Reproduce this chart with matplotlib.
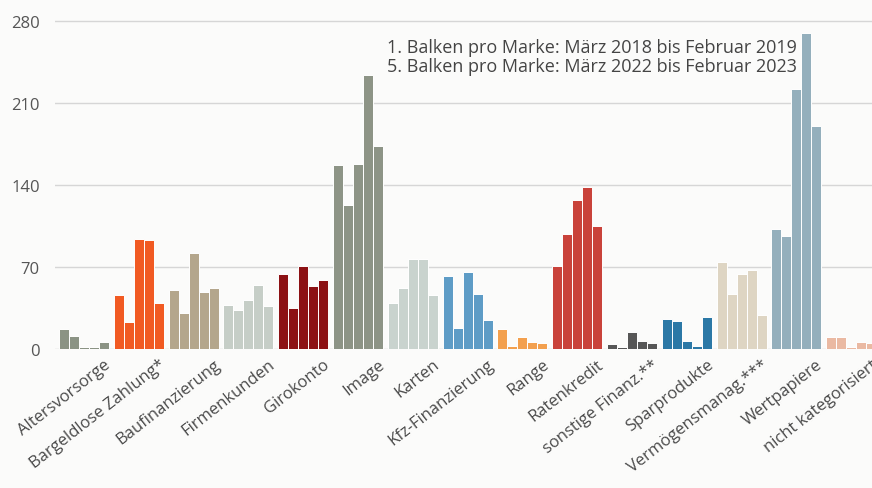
import numpy as np
import matplotlib.pyplot as plt

categories = ["Altersvorsorge", "Bargeldlose Zahlung*", "Baufinanzierung", "Firmenkunden",
              "Girokonto", "Image", "Karten", "Kfz-Finanzierung", "Range", "Ratenkredit",
              "sonstige Finanz.**", "Sparprodukte", "Vermögensmanag.***", "Wertpapiere",
              "nicht kategorisiert"]

# one list per period (bar 1 .. bar 5 of each brand)
p1 = [17, 46, 50, 38, 64, 157, 39, 62, 17, 71, 4, 26, 74, 102, 10]
p2 = [11, 23, 31, 33, 35, 123, 52, 18, 3, 98, 2, 24, 47, 96, 10]
p3 = [1.5, 94, 82, 42, 71, 158, 77, 66, 10, 127, 15, 7, 64, 222, 2]
p4 = [1.5, 93, 49, 55, 54, 234, 77, 47, 6, 138, 7, 3, 67, 269, 6]
p5 = [6, 39, 52, 37, 59, 173, 46, 25, 5, 105, 5, 27, 29, 190, 5]

colors = ["#8b9384", "#f15a22", "#b4a68c", "#c6cec7", "#8c1114", "#8d9486", "#c9d3ce",
          "#5e9cc6", "#f3a04e", "#c9423a", "#565656", "#2b78a6", "#ded5c3", "#94afbc",
          "#eab9a2"]

plt.rcParams['font.family'] = ['Open Sans', 'DejaVu Sans']

fig = plt.figure(figsize=(8.72, 4.89), dpi=100)
fig.patch.set_facecolor("#fbfbfa")
ax = fig.add_axes([0.063, 0.284, 0.937, 0.696])
ax.set_facecolor("#fbfbfa")

x = np.arange(len(categories))
w = 0.183
for k, vals in enumerate([p1, p2, p3, p4, p5]):
    ax.bar(x + (k - 2) * w, vals, width=w, color=colors, edgecolor="white",
           linewidth=0.7, zorder=2)

ax.set_xlim(-0.53, 14.38)
ax.set_ylim(0, 290)
ax.set_yticks([0, 70, 140, 210, 280])
ax.yaxis.grid(True, color="#d6d6d6", linewidth=1, zorder=0)
ax.tick_params(axis="y", length=0, pad=11, labelsize=12, labelcolor="#555555")
ax.tick_params(axis="x", length=0, pad=5)
ax.set_xticks(x + 0.36)
ax.set_xticklabels(categories, rotation=38, ha="right", rotation_mode="anchor",
                   fontsize=12, color="#4a4a4a")
for s in ax.spines.values():
    s.set_visible(False)

ax.text(0.908, 0.915, "1. Balken pro Marke: März 2018 bis Februar 2019\n"
        "5. Balken pro Marke: März 2022 bis Februar 2023",
        transform=ax.transAxes, ha="right", va="top", fontsize=13,
        color="#444444", linespacing=1.1)

fig.savefig("out.png", dpi=100, facecolor=fig.get_facecolor())
